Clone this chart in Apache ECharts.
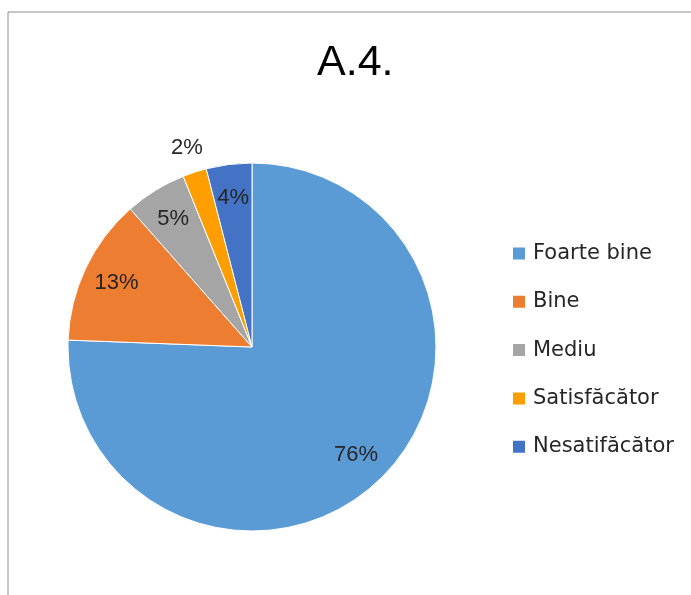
<!DOCTYPE html>
<html>
<head>
<meta charset="utf-8">
<script src="https://cdn.jsdelivr.net/npm/echarts@6/dist/echarts.min.js"></script>
<style>
html,body{margin:0;padding:0;background:#fff;}
#chart{width:691px;height:595px;}
</style>
</head>
<body>
<div id="chart"></div>
<script>
const titleText = 'A.4.';
const categories = ['Foarte bine', 'Bine', 'Mediu', 'Satisfăcător', 'Nesatifăcător'];
const values = [75.6, 12.9, 5.4, 2.1, 4.0];
const colors = ['#5B9BD5', '#ED7D31', '#A5A5A5', '#FF9E00', '#4472C4'];
const outsideLabelCategory = 'Satisfăcător';

const chart = echarts.init(document.getElementById('chart'), null, {renderer: 'canvas'});
const center = [252, 347];
const R = 184;
const labelFont = {fontFamily: 'Liberation Sans, Arial, sans-serif', fontSize: 22, color: '#262626'};
const fmt = p => Math.round(p.percent) + '%';

const mainData = categories.map((c, i) => ({name: c, value: values[i], itemStyle: {color: colors[i]}}));
const insideData = categories.map((c, i) => ({
  name: c, value: values[i],
  itemStyle: {color: 'rgba(0,0,0,0)', borderWidth: 0},
  label: {show: c !== outsideLabelCategory}
}));
const outsideData = categories.map((c, i) => ({
  name: c, value: values[i],
  itemStyle: {color: 'rgba(0,0,0,0)', borderWidth: 0},
  label: {show: c === outsideLabelCategory}
}));

chart.setOption({
  animation: false,
  backgroundColor: '#fff',
  graphic: [{
    type: 'rect', silent: true,
    shape: {x: 8, y: 12, width: 700, height: 600},
    style: {fill: 'none', stroke: '#8E8E8E', lineWidth: 1}
  }],
  title: {
    text: titleText, left: 312, top: 37,
    textStyle: {fontFamily: 'Liberation Sans, Arial, sans-serif', fontSize: 43, fontWeight: 'normal', color: '#000'}
  },
  legend: {
    orient: 'vertical', left: 511, top: 243, padding: 0,
    icon: 'rect', itemWidth: 14, itemHeight: 14, itemGap: 27.3,
    data: categories.map((c, i) => ({name: c, itemStyle: {color: colors[i]}})),
    textStyle: {fontFamily: 'DejaVu Sans, sans-serif', fontSize: 21, lineHeight: 20, color: '#262626', padding: [0, 0, 0, 2]},
    selectedMode: false
  },
  series: [
    {
      type: 'pie', center: center, radius: [0, R], startAngle: 90, clockwise: true,
      silent: true, label: {show: false}, labelLine: {show: false},
      itemStyle: {borderColor: '#fff', borderWidth: 1},
      data: mainData
    },
    {
      type: 'pie', center: center, radius: [110, R], startAngle: 90, clockwise: true,
      silent: true, avoidLabelOverlap: false,
      label: Object.assign({position: 'inside', formatter: fmt}, labelFont),
      labelLine: {show: false},
      data: insideData
    },
    {
      type: 'pie', center: center, radius: [R, 228], startAngle: 90, clockwise: true,
      silent: true, avoidLabelOverlap: false,
      label: Object.assign({position: 'inside', formatter: fmt}, labelFont),
      labelLine: {show: false},
      data: outsideData
    }
  ]
});
</script>
</body>
</html>
